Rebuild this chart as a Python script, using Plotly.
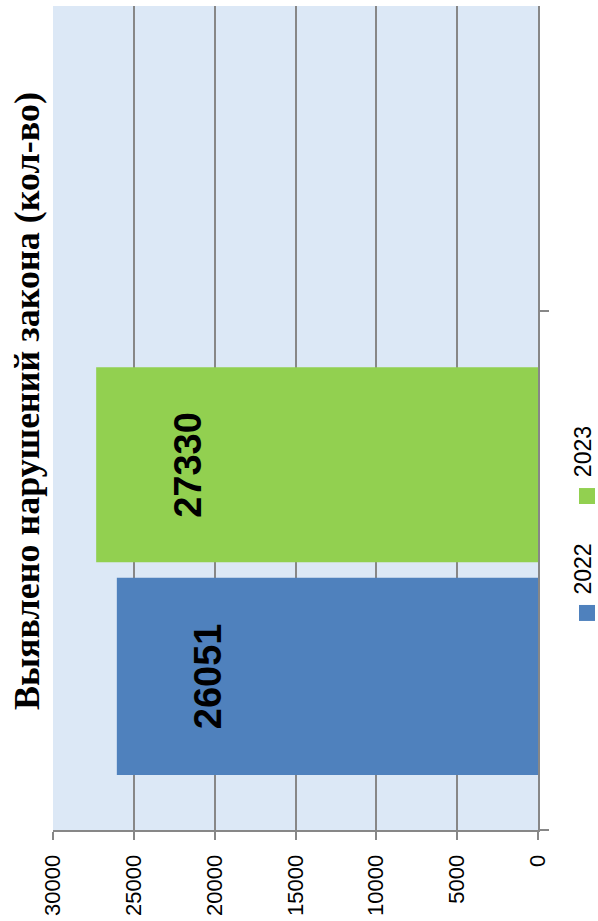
import plotly.graph_objects as go

# Data
TITLE = "Выявлено нарушений закона (кол-во)"
SERIES = ["2022", "2023"]
VALUES = [26051, 27330]
COLORS = ["#4f81bd", "#92d050"]
VALUE_TICKS = [0, 5000, 10000, 15000, 20000, 25000, 30000]

# bar placement inside the single category slot (offset, width in category units)
BAR_OFFSETS = [-0.394, 0.016]
BAR_WIDTHS = [0.38, 0.376]

GRID = "#878787"
BG = "#dce8f6"

fig = go.Figure()
for name, val, col, off, w in zip(SERIES, VALUES, COLORS, BAR_OFFSETS, BAR_WIDTHS):
    fig.add_trace(go.Bar(
        x=[val], y=[0], orientation="h", name=name,
        marker=dict(color=col, line=dict(width=0)),
        offset=off, width=w, showlegend=False, hoverinfo="x+name",
    ))
    # value label, rotated to read bottom-to-top, near the bar end
    fig.add_annotation(
        x=val, y=off + w / 2, xref="x", yref="y", xshift=92,
        text=f"<b>{val}</b>", textangle=-90, showarrow=False,
        font=dict(family="Liberation Sans", size=38, color="black"),
        xanchor="center", yanchor="middle",
    )

# chart title, rotated
fig.add_annotation(
    x=-0.0536, y=0.5206, xref="paper", yref="paper",
    text=f"<b>{TITLE}</b>", textangle=-90, showarrow=False,
    font=dict(family="Liberation Serif", size=36, color="black"),
    xanchor="center", yanchor="middle", borderpad=0,
)

# rotated legend: colour square + series name
LEGEND_Y = [0.2634, 0.4053]     # square centres (paper)
LEGEND_TEXT_Y = [0.3168, 0.4593]
for name, col, sy, ty in zip(SERIES, COLORS, LEGEND_Y, LEGEND_TEXT_Y):
    fig.add_shape(
        type="rect", xref="paper", yref="paper",
        x0=1.0845, x1=1.1175, y0=sy - 0.0097, y1=sy + 0.0097,
        fillcolor=col, line=dict(width=0),
    )
    fig.add_annotation(
        x=1.092, y=ty, xref="paper", yref="paper",
        text=name, textangle=-90, showarrow=False,
        font=dict(family="Liberation Sans", size=23, color="black"),
        xanchor="center", yanchor="middle", borderpad=0,
    )

fig.update_layout(
    width=598, height=921,
    margin=dict(l=53, r=60, t=6, b=91),
    paper_bgcolor="white", plot_bgcolor=BG,
    barmode="overlay",
    showlegend=False,
)
fig.update_xaxes(
    range=[30000, 0], tickvals=VALUE_TICKS,
    ticktext=[str(v) for v in VALUE_TICKS],
    tickangle=-90, ticks="outside", ticklen=8, tickwidth=2, tickcolor=GRID,
    ticklabelstandoff=6,
    tickfont=dict(family="Liberation Sans", size=22, color="black"),
    showgrid=True, gridcolor=GRID, gridwidth=2,
    showline=True, linecolor=GRID, linewidth=2, zeroline=False,
)
fig.update_yaxes(
    range=[-0.5, 1.088], tickvals=[-0.5, 0.5], showticklabels=False,
    side="right", ticks="outside", ticklen=9, tickwidth=2, tickcolor=GRID,
    showgrid=False, showline=True, linecolor=GRID, linewidth=2, zeroline=False,
)

fig.write_html("out.html")
